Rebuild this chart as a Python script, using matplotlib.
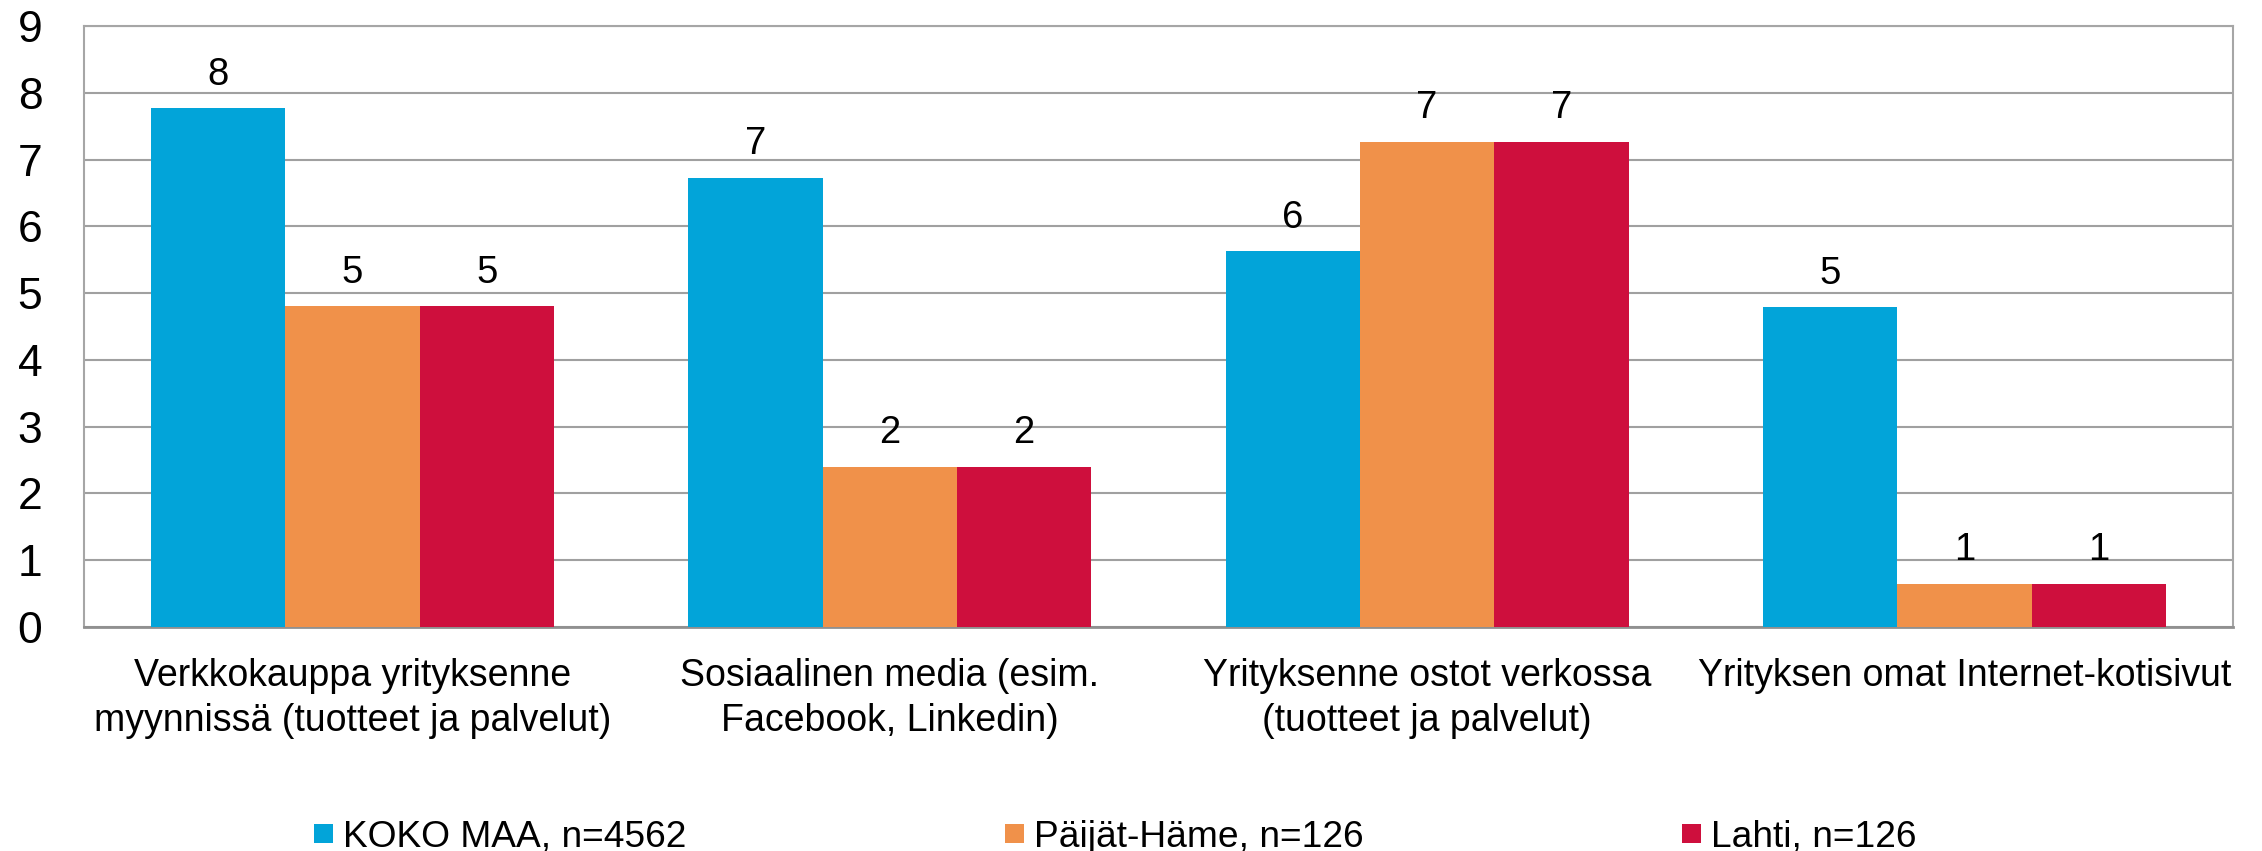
import matplotlib
matplotlib.use("Agg")
import matplotlib.pyplot as plt
import numpy as np

plt.rcParams['font.family'] = ['Liberation Sans', 'DejaVu Sans']

categories = [
    "Verkkokauppa yrityksenne\nmyynnissä (tuotteet ja palvelut)",
    "Sosiaalinen media (esim.\nFacebook, Linkedin)",
    "Yrityksenne ostot verkossa\n(tuotteet ja palvelut)",
    "Yrityksen omat Internet-kotisivut",
]
series_names = ["KOKO MAA, n=4562", "Päijät-Häme, n=126", "Lahti, n=126"]
koko_maa = [7.77, 6.73, 5.63, 4.79]
paijat_hame = [4.81, 2.40, 7.27, 0.65]
lahti = [4.81, 2.40, 7.27, 0.65]
y_ticks = [0, 1, 2, 3, 4, 5, 6, 7, 8, 9]

colors = ["#02A4D9", "#F0914A", "#CE0F3D"]

fig = plt.figure(figsize=(22.62, 8.51), dpi=100)
ax = fig.add_axes([0.0371, 0.2632, 0.9501, 0.7062])

x = np.arange(len(categories))
w = 0.25
all_series = [koko_maa, paijat_hame, lahti]
for i, (vals, name, c) in enumerate(zip(all_series, series_names, colors)):
    bars = ax.bar(x + (i - 1) * w, vals, width=w, color=c, label=name, zorder=3)
    ax.bar_label(bars, fmt='%.0f', padding=11, fontsize=27.5, color='black')

ax.set_xlim(-0.5, len(categories) - 0.5)
ax.set_ylim(0, 9)
ax.set_yticks(y_ticks)
ax.set_yticklabels([str(t) for t in y_ticks], fontsize=32)
ax.set_xticks(x)
ax.set_xticklabels(categories, fontsize=27, linespacing=1.32)
ax.tick_params(axis='y', length=0, pad=30)
ax.tick_params(axis='x', length=0, pad=22)
ax.grid(axis='y', color='#A0A0A0', linewidth=1.5, zorder=0)
for s in ['left', 'top', 'right']:
    ax.spines[s].set_color('#A6A6A6')
    ax.spines[s].set_linewidth(1.5)
ax.spines['bottom'].set_color('#909090')
ax.spines['bottom'].set_linewidth(2)

handles, labels = ax.get_legend_handles_labels()
fig.legend(handles, labels, loc='center', bbox_to_anchor=(0.493, 0.016), ncol=3,
           frameon=False, fontsize=26.7, handlelength=0.5, handleheight=0.43,
           handletextpad=0.27, columnspacing=8.6)

fig.savefig("out.png", dpi=100)
